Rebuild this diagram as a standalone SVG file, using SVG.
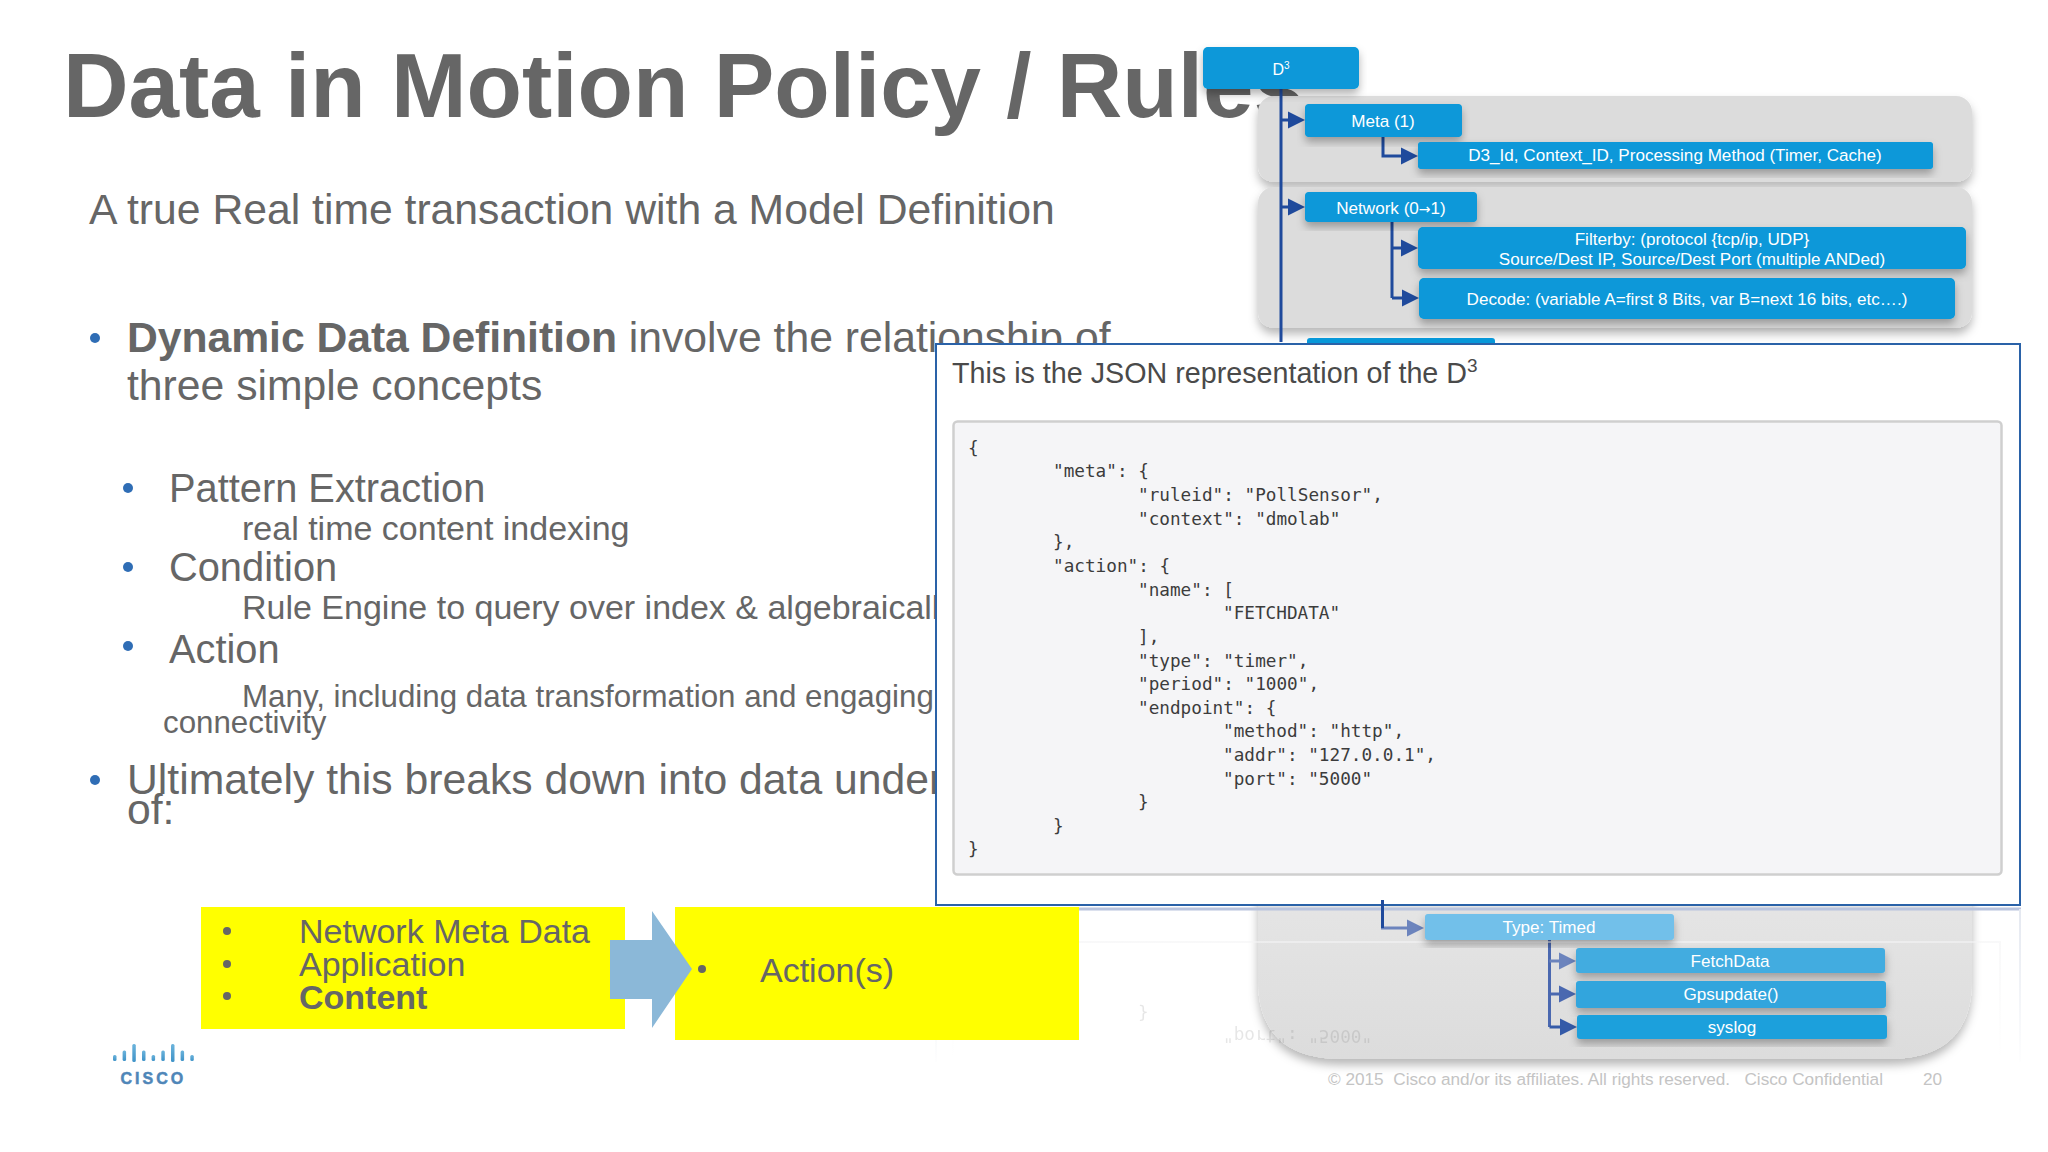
<svg xmlns="http://www.w3.org/2000/svg" width="2048" height="1152" viewBox="0 0 2048 1152">
<style>
text{font-family:"Liberation Sans",Arial,sans-serif}
.h{font-size:90.8px;font-weight:700;fill:#666}
.l1{font-size:42.700px;fill:#666}
.l2{font-size:39.800px;fill:#666}
.l3{font-size:34px;fill:#666}
.l4{font-size:31.300px;fill:#666}
.y{font-size:34px;fill:#666}
.b{fill:#fff;font-size:17.100px;text-anchor:middle}
.box{fill:#0798d9}
.code{font-family:"DejaVu Sans Mono","Liberation Mono",monospace;font-size:17.7px;fill:#3c3c3c}
.c{fill:none;stroke:#1f4a9c;stroke-width:3}
.foot{font-size:17.200px;fill:#c4c4c4}
.bl{fill:#2f6db5}
.gb{fill:#666}
</style>
<defs>
<marker id="a" markerUnits="userSpaceOnUse" markerWidth="18" markerHeight="20" refX="1" refY="10" orient="auto"><path d="M0 1.5L17 10L0 18.500Z" fill="#1f4a9c"/></marker>
<marker id="a2" markerUnits="userSpaceOnUse" markerWidth="18" markerHeight="20" refX="1" refY="10" orient="auto"><path d="M0 1.5L17 10L0 18.500Z" fill="#6c84bd"/></marker>
<marker id="a3" markerUnits="userSpaceOnUse" markerWidth="18" markerHeight="20" refX="1" refY="10" orient="auto"><path d="M0 1.5L17 10L0 18.500Z" fill="#4a68b0"/></marker>
<marker id="a4" markerUnits="userSpaceOnUse" markerWidth="18" markerHeight="20" refX="1" refY="10" orient="auto"><path d="M0 1.5L17 10L0 18.500Z" fill="#345aa8"/></marker>
<filter id="s" x="-5%" y="-20%" width="110%" height="150%"><feDropShadow dx="0" dy="5" stdDeviation="4" flood-color="#000" flood-opacity=".3"/></filter>
<filter id="ps" x="-3%" y="-10%" width="106%" height="125%"><feDropShadow dx="0" dy="6" stdDeviation="5" flood-color="#000" flood-opacity=".28"/></filter>
<linearGradient id="p3" x1="0" y1="0" x2="0" y2="1"><stop offset="0" stop-color="#e6e6e6"/><stop offset="1" stop-color="#dcdcdc"/></linearGradient>
<linearGradient id="fade" gradientUnits="userSpaceOnUse" x1="0" y1="909" x2="0" y2="1070"><stop offset="0" stop-color="#e4e8f0"/><stop offset="1" stop-color="#fff"/></linearGradient>
<linearGradient id="fade2" gradientUnits="userSpaceOnUse" x1="0" y1="942" x2="0" y2="1060"><stop offset="0" stop-color="#f4f4f5"/><stop offset="1" stop-color="#fff"/></linearGradient>
<linearGradient id="bar" x1="0" y1="0" x2="0" y2="1"><stop offset="0" stop-color="#6cb4dc"/><stop offset="1" stop-color="#3f93c8"/></linearGradient>
</defs>
<rect width="2048" height="1152" fill="#fff"/>
<g id="slide-text">
<text class="h" x="63" y="117">Data in Motion Policy / Rules</text>
<text x="89" y="224" style="font-size:42.700px;fill:#666">A true Real time transaction with a Model Definition</text>
<circle class="bl" cx="95" cy="338" r="5"/>
<text class="l1" x="127" y="352"><tspan font-weight="700" textLength="490">Dynamic Data Definition</tspan> involve the relationship of</text>
<text class="l1" x="127" y="400">three simple concepts</text>
<circle class="bl" cx="128" cy="488" r="5"/>
<text class="l2" x="169" y="502">Pattern Extraction</text>
<text class="l3" x="242" y="540">real time content indexing</text>
<circle class="bl" cx="128" cy="567" r="5"/>
<text class="l2" x="169" y="581">Condition</text>
<text class="l3" x="242" y="619">Rule Engine to query over index &amp; algebraically</text>
<circle class="bl" cx="128" cy="646" r="5"/>
<text class="l2" x="169" y="663">Action</text>
<text class="l4" x="242" y="707">Many, including data transformation and engaging</text>
<text class="l4" x="163" y="733">connectivity</text>
<circle class="bl" cx="95" cy="780" r="5"/>
<text class="l1" x="127" y="794">Ultimately this breaks down into data understanding</text>
<text class="l1" x="127" y="824">of:</text>
</g>
<g id="panels">
<rect id="panel-meta" x="1258" y="96" width="714" height="86" rx="16" fill="#dcdcdc" filter="url(#ps)"/>
<rect id="panel-network" x="1258" y="187" width="714" height="141" rx="16" fill="#dcdcdc" filter="url(#ps)"/>
<path id="panel-action" d="M1258 880H1972V980Q1972 1059 1888 1059H1342Q1258 1059 1258 980Z" fill="url(#p3)" filter="url(#ps)"/>
</g>
<g id="connectors">
<path class="c" d="M1281 89V342"/>
<path class="c" marker-end="url(#a)" d="M1281 120H1289"/>
<path class="c" marker-end="url(#a)" d="M1281 207H1289"/>
<path class="c" marker-end="url(#a)" d="M1383 137V156H1402"/>
<path class="c" d="M1392 222V298"/>
<path class="c" marker-end="url(#a)" d="M1392 248H1402"/>
<path class="c" marker-end="url(#a)" d="M1392 298H1403"/>
<path class="c" style="stroke:#6c84bd" marker-end="url(#a2)" d="M1382.500 905V928H1408"/>
<path class="c" style="stroke:#4a68b0" d="M1549.500 940V1027"/>
<path class="c" style="stroke:#6c84bd" marker-end="url(#a2)" d="M1549.500 961H1560"/>
<path class="c" style="stroke:#4a68b0" marker-end="url(#a3)" d="M1549.500 994H1560"/>
<path class="c" style="stroke:#345aa8" marker-end="url(#a4)" d="M1549.500 1027H1561"/>
</g>
<g id="node-d3"><rect class="box" x="1203" y="47" width="156" height="42" rx="5" filter="url(#s)"/><text class="b" x="1281" y="75" style="font-size:16px">D<tspan dy="-6" style="font-size:10px">3</tspan></text></g>
<g id="node-meta"><rect class="box" x="1305" y="104" width="157" height="33" rx="4" filter="url(#s)"/><text class="b" x="1383" y="127">Meta (1)</text></g>
<g id="node-meta-fields"><rect class="box" x="1418" y="142" width="515" height="27" rx="3" filter="url(#s)"/><text class="b" x="1675" y="161">D3_Id, Context_ID, Processing Method (Timer, Cache)</text></g>
<g id="node-network"><rect class="box" x="1305" y="192" width="172" height="30" rx="4" filter="url(#s)"/><text class="b" x="1391" y="214">Network (0<tspan style="font-family:'DejaVu Sans',sans-serif;font-size:14px">→</tspan>1)</text></g>
<g id="node-filterby"><rect class="box" x="1418" y="227" width="548" height="42" rx="5" filter="url(#s)"/><text class="b" x="1692" y="245">Filterby: (protocol {tcp/ip, UDP}</text><text class="b" x="1692" y="265">Source/Dest IP, Source/Dest Port (multiple ANDed)</text></g>
<g id="node-decode"><rect class="box" x="1419" y="278" width="536" height="41" rx="5" filter="url(#s)"/><text class="b" x="1687" y="305">Decode: (variable A=first 8 Bits, var B=next 16 bits, etc….)</text></g>
<g id="node-action-hidden"><rect class="box" x="1307" y="338" width="188" height="10" rx="3"/></g>
<g id="popup-reflection">
<path d="M936 909H2021" stroke="#b9c4de" stroke-width="3" fill="none"/>
<path d="M936 909V1062M2020 909V1062" stroke="url(#fade)" stroke-width="2" fill="none"/>
<path d="M953 1060V942H2000V1060" stroke="url(#fade2)" stroke-width="2" fill="none" opacity=".6"/>
</g>
<g id="node-type"><rect x="1425" y="914" width="249" height="26" rx="3" fill="#72c0ea" filter="url(#s)"/><text class="b" x="1549" y="933">Type: Timed</text></g>
<g id="node-fetchdata"><rect x="1576" y="948" width="309" height="25" rx="3" fill="#43ace0" filter="url(#s)"/><text class="b" x="1730" y="967">FetchData</text></g>
<g id="node-gpsupdate"><rect x="1576" y="981" width="310" height="27" rx="3" fill="#30a5dd" filter="url(#s)"/><text class="b" x="1731" y="1000">Gpsupdate()</text></g>
<g id="node-syslog"><rect x="1577" y="1015" width="310" height="24" rx="3" fill="#1fa0dc" filter="url(#s)"/><text class="b" x="1732" y="1033">syslog</text></g>
<g id="popup-reflection-text" transform="translate(0 1815) scale(1 -1)">
<text class="code" x="1138" y="808" opacity=".12">}</text>
<text class="code" x="1223" y="785" opacity=".12">"port": "5000"</text>
</g>
<g id="popup">
<rect x="936" y="344" width="1084" height="561" fill="#fff" stroke="#2a62a8" stroke-width="2"/>
<text x="952" y="383" style="font-size:28.700px;fill:#4a4a4a">This is the JSON representation of the D<tspan dy="-11" style="font-size:19px">3</tspan></text>
<rect x="953.500" y="421.500" width="1048" height="453" rx="4" fill="#f5f5f7" stroke="#cfcfcf" stroke-width="2.500"/>
<text class="code" x="968" y="453.500">{</text>
<text class="code" x="1053" y="477">"meta": {</text>
<text class="code" x="1138" y="500.500">"ruleid": "PollSensor",</text>
<text class="code" x="1138" y="524.500">"context": "dmolab"</text>
<text class="code" x="1053" y="548">},</text>
<text class="code" x="1053" y="571.500">"action": {</text>
<text class="code" x="1138" y="595.500">"name": [</text>
<text class="code" x="1223" y="619">"FETCHDATA"</text>
<text class="code" x="1138" y="642.500">],</text>
<text class="code" x="1138" y="666.500">"type": "timer",</text>
<text class="code" x="1138" y="690">"period": "1000",</text>
<text class="code" x="1138" y="713.500">"endpoint": {</text>
<text class="code" x="1223" y="737">"method": "http",</text>
<text class="code" x="1223" y="760.500">"addr": "127.0.0.1",</text>
<text class="code" x="1223" y="784.500">"port": "5000"</text>
<text class="code" x="1138" y="808">}</text>
<text class="code" x="1053" y="831.500">}</text>
<text class="code" x="968" y="855">}</text>
</g>
<path d="M1382.500 900V928" stroke="#1f4a9c" stroke-width="3" fill="none"/>
<g id="node-sources">
<rect x="201" y="907" width="424" height="122" fill="#ff0"/>
<circle class="gb" cx="227" cy="931" r="4"/><text class="y" x="299" y="943">Network Meta Data</text>
<circle class="gb" cx="227" cy="964" r="4"/><text class="y" x="299" y="976">Application</text>
<circle class="gb" cx="227" cy="996" r="4"/><text class="y" x="299" y="1009" font-weight="700">Content</text>
</g>
<g id="node-actions">
<rect x="675" y="907" width="404" height="133" fill="#ff0"/>
</g>
<polygon id="flow-arrow" points="610,940 652,940 652,911 692,969 652,1028 652,999 610,999" fill="#8bb8d8"/>
<g id="node-actions-label">
<circle class="gb" cx="702" cy="969" r="4"/><text class="y" x="760" y="982">Action(s)</text>
</g>
<g id="cisco-logo" fill="url(#bar)">
<rect x="113" y="1055" width="3.500" height="6" rx="1.500"/><rect x="122.600" y="1050.500" width="3.500" height="10.500" rx="1.500"/><rect x="132.300" y="1044" width="3.500" height="18" rx="1.500"/><rect x="142" y="1050.500" width="3.500" height="10.500" rx="1.500"/><rect x="151.600" y="1055" width="3.500" height="6" rx="1.500"/><rect x="161.300" y="1050.500" width="3.500" height="10.500" rx="1.500"/><rect x="171" y="1044" width="3.500" height="18" rx="1.500"/><rect x="180.600" y="1050.500" width="3.500" height="10.500" rx="1.500"/><rect x="190.300" y="1055" width="3.500" height="6" rx="1.500"/>
<text x="120.500" y="1084" style="font-size:16px;font-weight:700;letter-spacing:3px;fill:#4f86b8;stroke:#4f86b8;stroke-width:.5px">CISCO</text>
</g>
<g id="footer">
<text class="foot" x="1328" y="1085" xml:space="preserve">© 2015  Cisco and/or its affiliates. All rights reserved.   Cisco Confidential</text>
<text class="foot" x="1923" y="1085">20</text>
</g>
</svg>
